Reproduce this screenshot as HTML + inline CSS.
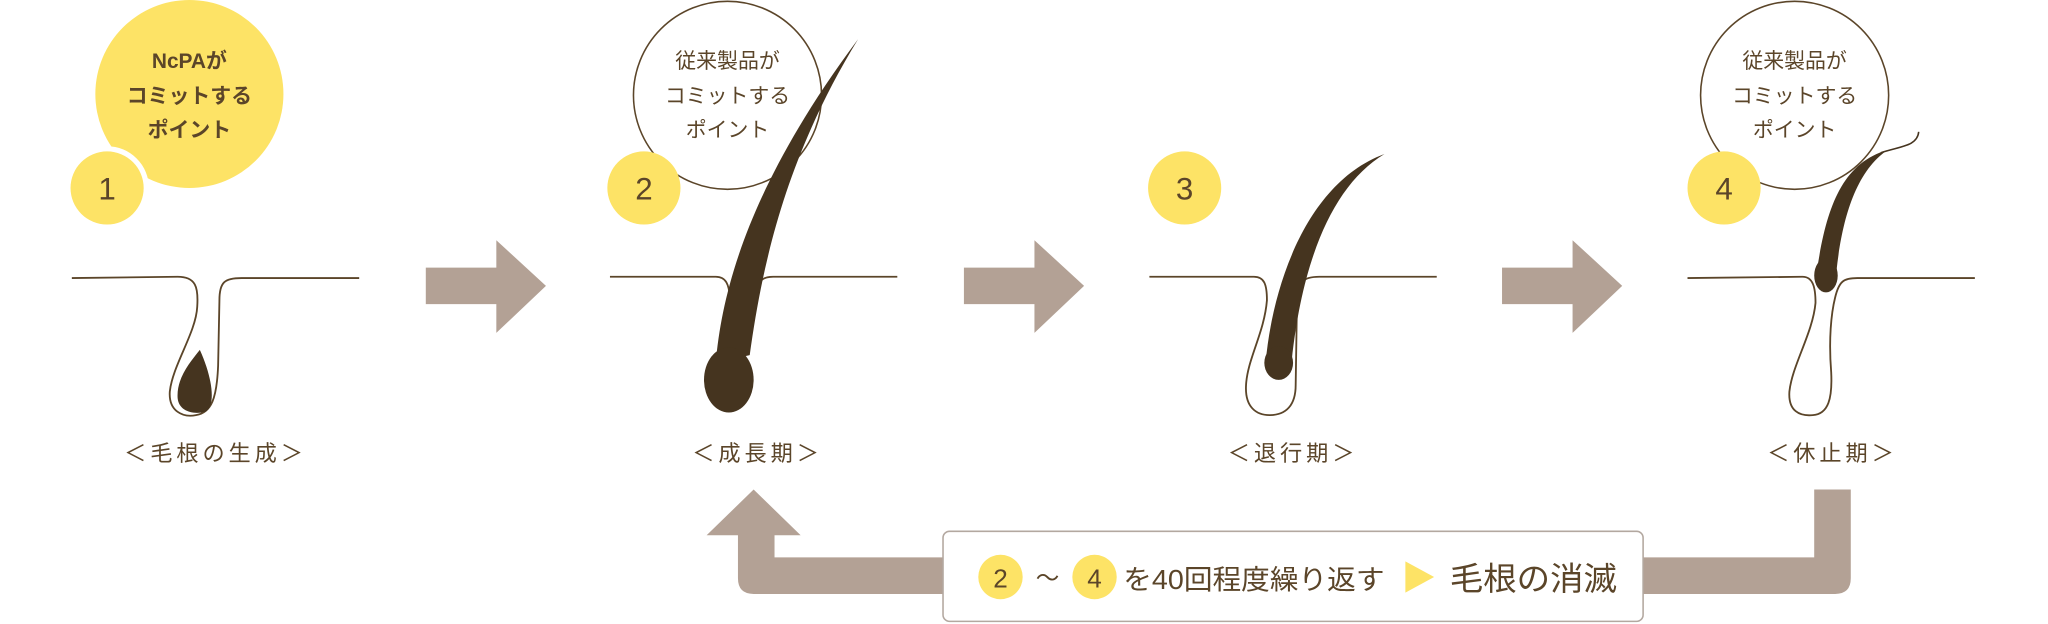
<!DOCTYPE html>
<html><head><meta charset="utf-8"><style>
html,body{margin:0;padding:0;background:#fff;}
svg{display:block;}
text{font-family:"Liberation Sans","Noto Sans CJK JP",sans-serif;fill:#5b4529;}
</style></head><body>
<svg width="2048" height="624" viewBox="0 0 1568 478" preserveAspectRatio="none" xmlns="http://www.w3.org/2000/svg">
<!-- Panel 1 -->
<circle cx="145" cy="72" r="72" fill="#fde366"/>
<circle cx="82" cy="144" r="32" fill="#fff"/>
<circle cx="82" cy="144" r="28" fill="#fde366"/>
<text x="145" y="52" font-size="16" text-anchor="middle" font-weight="bold">NcPAが</text>
<text x="145" y="79" font-size="16" text-anchor="middle" font-weight="bold">コミットする</text>
<text x="145" y="105" font-size="16" text-anchor="middle" font-weight="bold">ポイント</text>
<text x="82" y="153" font-size="24" text-anchor="middle">1</text>
<path d="M55,213 L136,212 C150,212 152,220 151,235 C150,255 132,280 130,300 C129,315 140,320 150,318 C162,316 166,305 167,280 L168,230 C168,216 172,213 185,213 L275,213" fill="none" stroke="#5b4529" stroke-width="1.4"/>
<path d="M153,268 C145,278 135,290 136,305 C137,316 150,318 158,315 C165,310 163,290 153,268Z" fill="#45341f"/>
<text x="165" y="353" font-size="17" text-anchor="middle" letter-spacing="3">＜毛根の生成＞</text>
<!-- Arrow 1-3 -->
<path d="M326,205 L380,205 L380,184 L418,219 L380,255 L380,233 L326,233Z" fill="#b3a195"/>
<path d="M738,205 L792,205 L792,184 L830,219 L792,255 L792,233 L738,233Z" fill="#b3a195"/>
<path d="M1150,205 L1204,205 L1204,184 L1242,219 L1204,255 L1204,233 L1150,233Z" fill="#b3a195"/>
<!-- Panel 2 -->
<circle cx="557" cy="73" r="72" fill="#fff" stroke="#5b4529" stroke-width="1.2"/>
<circle cx="493" cy="144" r="28" fill="#fde366"/>
<text x="557" y="52" font-size="16" text-anchor="middle">従来製品が</text>
<text x="557" y="79" font-size="16" text-anchor="middle">コミットする</text>
<text x="557" y="105" font-size="16" text-anchor="middle">ポイント</text>
<text x="493" y="153" font-size="24" text-anchor="middle">2</text>
<path d="M467,212 L548,212 C556,212 558,218 559,228 M578,228 C579,216 583,212 592,212 L687,212" fill="none" stroke="#5b4529" stroke-width="1.4"/>
<path d="M548,278 C553,220 575,140 657,30 C602,120 584,200 574,272 Z" fill="#45341f"/>
<ellipse cx="558" cy="291" rx="19" ry="25" fill="#45341f"/>
<text x="580" y="353" font-size="17" text-anchor="middle" letter-spacing="3">＜成長期＞</text>
<!-- Panel 3 -->
<circle cx="907" cy="144" r="28" fill="#fde366"/>
<text x="907" y="153" font-size="24" text-anchor="middle">3</text>
<path d="M880,212 L960,212 C968,212 970,218 970,230 C968,255 955,275 954,295 C953,312 962,318 972,318 C985,318 992,310 992,295 L993,230 C993,216 998,212 1010,212 L1100,212" fill="none" stroke="#5b4529" stroke-width="1.4"/>
<path d="M969,278 C974,220 1000,140 1060,118 C1020,142 997,200 989,276 Z" fill="#45341f"/>
<ellipse cx="979" cy="278" rx="11" ry="13" fill="#45341f"/>
<text x="990" y="353" font-size="17" text-anchor="middle" letter-spacing="3">＜退行期＞</text>
<!-- Panel 4 -->
<circle cx="1374" cy="73" r="72" fill="#fff" stroke="#5b4529" stroke-width="1.2"/>
<circle cx="1320" cy="144" r="28" fill="#fde366"/>
<text x="1374" y="52" font-size="16" text-anchor="middle">従来製品が</text>
<text x="1374" y="79" font-size="16" text-anchor="middle">コミットする</text>
<text x="1374" y="105" font-size="16" text-anchor="middle">ポイント</text>
<text x="1320" y="153" font-size="24" text-anchor="middle">4</text>
<path d="M1292,213 L1380,212 C1388,212 1390,220 1390,232 C1388,255 1372,280 1370,300 C1369,315 1378,319 1388,318 C1400,317 1403,305 1402,285 C1400,260 1402,240 1405,228 C1408,215 1412,213 1422,213 L1512,213" fill="none" stroke="#5b4529" stroke-width="1.4"/>
<path d="M1391,208 C1398,160 1410,125 1445,115 C1420,132 1410,170 1406,208 Z" fill="#45341f"/>
<ellipse cx="1398" cy="211" rx="9" ry="13" fill="#45341f"/>
<path d="M1440,117 C1455,112 1468,112 1469,101" fill="none" stroke="#45341f" stroke-width="1.2"/>
<text x="1403" y="353" font-size="17" text-anchor="middle" letter-spacing="3">＜休止期＞</text>
<!-- Loop arrow -->
<path d="M1389,375 L1417,375 L1417,443 Q1417,455 1405,455 L577,455 Q565,455 565,443 L565,410 L541,410 L577,375 L613,410 L593,410 L593,427 L1389,427 Z" fill="#b3a195"/>
<rect x="722" y="407" width="536" height="69" rx="5" fill="#fff" stroke="#b3a8a0" stroke-width="1.2"/>
<circle cx="766" cy="442" r="17" fill="#fde366"/>
<text x="766" y="450" font-size="20" text-anchor="middle">2</text>
<text x="802" y="449" font-size="18" text-anchor="middle">～</text>
<circle cx="838" cy="442" r="17" fill="#fde366"/>
<text x="838" y="450" font-size="20" text-anchor="middle">4</text>
<text x="860" y="451" font-size="21" textLength="200" lengthAdjust="spacingAndGlyphs">を40回程度繰り返す</text>
<path d="M1076,430 L1098,442 L1076,454Z" fill="#fde366"/>
<text x="1110" y="452" font-size="25" textLength="128" lengthAdjust="spacingAndGlyphs">毛根の消滅</text>
</svg>
</body></html>
